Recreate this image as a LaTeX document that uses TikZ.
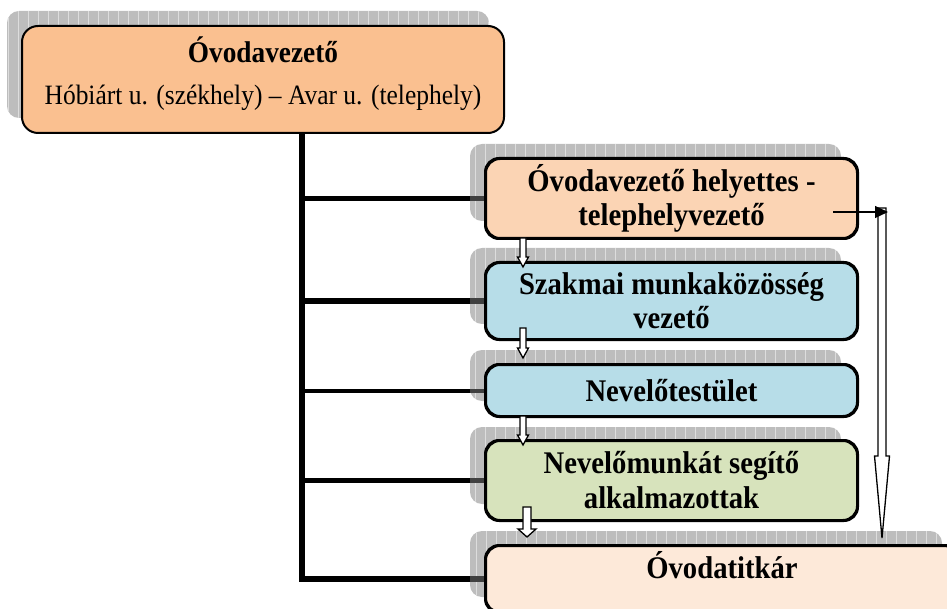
\documentclass[tikz,border=0pt]{standalone}
\usepackage{fontspec}
\setmainfont{Liberation Serif}[FakeStretch=0.91]
\usetikzlibrary{calc,arrows.meta}
\definecolor{cmain}{HTML}{FAC090}
\definecolor{cdep}{HTML}{FBD4B4}
\definecolor{cblue}{HTML}{B7DDE8}
\definecolor{cgreen}{HTML}{D7E3BC}
\definecolor{csec}{HTML}{FDE9D9}
\definecolor{shfill}{HTML}{BDBDBD}
\definecolor{shline}{HTML}{DDDDDD}
\definecolor{connsh}{HTML}{404040}
\newcommand\hollowdown[5]{%
  \draw[harrow] ($(#1)+(-#3,0)$) -- ($(#2)+(-#3,-#5)$) -- ($(#2)+(-#4,-#5)$) -- (#2)
    -- ($(#2)+(#4,-#5)$) -- ($(#2)+(#3,-#5)$) -- ($(#1)+(#3,0)$) -- cycle;}
\begin{document}
\begin{tikzpicture}[x=1pt,y=-1pt,
  shadowbox/.style={rounded corners=12pt, fill=shfill, inner sep=0pt,
    path picture={\draw[shline, line width=0.8pt] (path picture bounding box.south west) grid[step=10] (path picture bounding box.north east);}},
  orgbox/.style={draw=black, line width=2pt, rounded corners=14pt, inner sep=3pt, align=center,
    font=\fontsize{31.5}{34}\selectfont\bfseries},
  trunk/.style={line width=5.5pt},
  trunkthin/.style={line width=4pt},
  trunksh/.style={line width=5.5pt, draw=connsh},
  trunkshthin/.style={line width=4pt, draw=connsh},
  harrow/.style={draw=black, fill=white, line width=1.3pt, line join=miter},
  thinarrow/.style={line width=1.2pt, -{Triangle[length=13pt,width=12pt]}}
]
\useasboundingbox (0,0) rectangle (947,609);
% shadows
\node[shadowbox, minimum width=482pt, minimum height=107pt] (s1) at (248,64.5) {};
\node[shadowbox, minimum width=371pt, minimum height=77pt] (s2) at (655.5,182.5) {};
\node[shadowbox, minimum width=371pt, minimum height=76pt] (s3) at (655.5,286) {};
\node[shadowbox, minimum width=371pt, minimum height=51pt] (s4) at (655.5,375.5) {};
\node[shadowbox, minimum width=371pt, minimum height=77pt] (s5) at (655.5,465.5) {};
\node[shadowbox, minimum width=472pt, minimum height=66pt] (s6) at (706,564) {};
% boxes
\node[orgbox, fill=cmain, minimum width=482pt, minimum height=107pt, rounded corners=16pt,
      font=\fontsize{28}{42}\selectfont, text depth=17pt] (main) at (263,79.5)
  {{\fontsize{30}{34}\selectfont\bfseries Óvodavezető}\\Hóbiárt u. (székhely) – Avar u. (telephely)};
\node[orgbox, fill=cdep, minimum width=371pt, minimum height=79pt] (b2) at (671.5,198.5)
  {Óvodavezető helyettes -\\telephelyvezető};
\node[orgbox, fill=cblue, minimum width=371pt, minimum height=76pt] (b3) at (671.5,301)
  {Szakmai munkaközösség\\vezető};
\node[orgbox, fill=cblue, minimum width=371pt, minimum height=51pt] (b4) at (671.5,390.5)
  {Nevelőtestület};
\node[orgbox, fill=cgreen, minimum width=371pt, minimum height=79pt, font=\fontsize{31.5}{35}\selectfont\bfseries] (b5) at (671.5,480.5)
  {Nevelőmunkát segítő\\alkalmazottak};
\node[orgbox, fill=csec, minimum width=472pt, minimum height=66pt, text height=27pt, text depth=29pt] (b6) at (722,579)
  {Óvodatitkár};
% tree connectors
\coordinate (t0) at (302,133);
\draw[trunk] (t0) |- (s6.west |- b6.west);
\draw[trunksh] (s6.west |- b6.west) -- (b6.west);
\draw[trunk] (t0 |- b2.west) -- (s2.west |- b2.west);
\draw[trunksh] (s2.west |- b2.west) -- (b2.west);
\draw[trunk] (t0 |- b3.west) -- (s3.west |- b3.west);
\draw[trunksh] (s3.west |- b3.west) -- (b3.west);
\draw[trunkthin] (t0 |- b4.west) -- (s4.west |- b4.west);
\draw[trunkshthin] (s4.west |- b4.west) -- (b4.west);
\draw[trunk] (t0 |- b5.west) -- (s5.west |- b5.west);
\draw[trunksh] (s5.west |- b5.west) -- (b5.west);
% redraw box borders over connector ends
\draw[line width=2pt, rounded corners=14pt] (b2.south west) rectangle (b2.north east);
\draw[line width=2pt, rounded corners=14pt] (b3.south west) rectangle (b3.north east);
\draw[line width=2pt, rounded corners=14pt] (b4.south west) rectangle (b4.north east);
\draw[line width=2pt, rounded corners=14pt] (b5.south west) rectangle (b5.north east);
\draw[line width=2pt, rounded corners=14pt] (b6.south west) rectangle (b6.north east);
% hollow arrows between boxes
\coordinate (a1s) at (523,238); \coordinate (a1e) at (523,267);
\coordinate (a2s) at (523,328); \coordinate (a2e) at (523,358);
\coordinate (a3s) at (523,416); \coordinate (a3e) at (523,445);
\coordinate (a4s) at (527,507); \coordinate (a4e) at (527,537);
\hollowdown{a1s}{a1e}{3}{5.5}{10}
\hollowdown{a2s}{a2e}{3}{5.5}{10}
\hollowdown{a3s}{a3e}{3}{5.5}{10}
\hollowdown{a4s}{a4e}{4}{9}{8}
% right side
\coordinate (r0) at (882,208); \coordinate (r1) at (882,538);
\hollowdown{r0}{r1}{4}{7.5}{82}
\coordinate (h0) at (833,212); \coordinate (h1) at (888,212);
\draw[thinarrow] (h0) -- (h1);
\end{tikzpicture}
\end{document}
